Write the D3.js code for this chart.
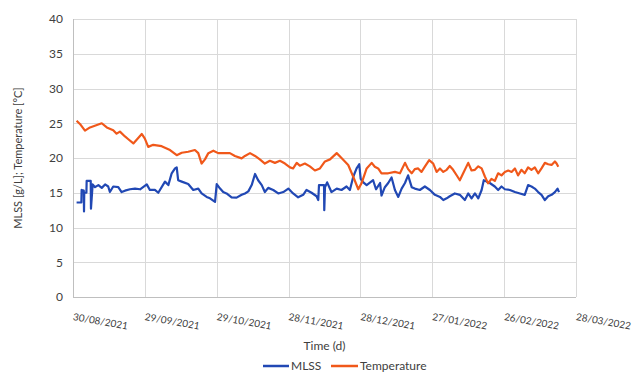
<!DOCTYPE html>
<html>
<head>
<meta charset="utf-8">
<script src="https://cdn.jsdelivr.net/npm/d3@7/dist/d3.min.js"></script>
<style>
  html, body { margin: 0; padding: 0; background: #fff; }
  svg { display: block; }
  text { font-family: Lato, "Open Sans", sans-serif; fill: #404040; }
</style>
</head>
<body>
<svg id="chart" width="633" height="372"></svg>
<script>
// ---- data (day offsets from 30/08/2021) ----
const startDate = "2021-08-30";
const xTickLabels = ["30/08/2021","29/09/2021","29/10/2021","28/11/2021","28/12/2021","27/01/2022","26/02/2022","28/03/2022"];
const yTicks = [0,5,10,15,20,25,30,35,40];
const seriesNames = ["MLSS", "Temperature"];

const tempDays = [1.5,2.9,5.0,7.1,12.0,14.1,16.8,18.2,19.6,21.7,23.1,25.2,28.7,30.0,31.4,33.5,37.0,40.5,43.3,45.4,48.1,50.9,52.3,53.7,55.1,56.5,58.6,60.6,63.4,65.5,67.6,70.4,71.8,73.9,76.0,78.0,80.1,82.2,84.3,86.4,88.5,90.6,91.9,93.4,94.7,96.8,98.9,101.0,103.1,105.2,107.3,110.1,112.1,114.9,117.0,119.1,120.5,122.6,124.7,126.0,127.4,128.8,131.6,134.4,136.5,138.6,139.9,141.4,142.7,144.1,145.5,146.9,148.7,150.4,151.8,153.2,154.6,156.0,157.3,158.7,160.1,161.5,162.9,165.0,166.4,167.8,169.2,170.6,172.0,173.3,174.7,176.1,177.5,178.9,180.3,181.7,183.1,184.5,185.8,187.2,188.6,190.0,191.4,192.8,194.2,195.6,197.0,198.4,199.8,201.2,201.9,202.6];
const tempValues = [25.37,24.9,23.93,24.4,25.0,24.4,24.0,23.5,23.8,23.1,22.7,22.1,23.46,22.8,21.6,21.9,21.7,21.15,20.4,20.76,20.9,21.15,20.7,19.2,19.8,20.7,21.05,20.7,20.7,20.7,20.3,19.95,20.3,20.7,20.3,19.8,19.2,19.6,19.3,19.6,19.2,18.65,18.5,19.3,18.9,19.2,18.8,18.2,18.5,19.5,19.8,20.7,20.0,19.0,17.3,15.5,16.4,18.5,19.3,18.75,18.5,17.8,17.8,18.0,17.8,19.3,18.4,17.8,18.4,18.5,18.0,18.75,19.7,19.2,18.0,18.5,18.0,18.3,18.85,18.3,17.55,16.8,17.8,19.3,18.2,18.3,18.8,18.5,17.3,16.35,17.0,16.7,17.8,17.5,18.0,18.2,18.0,18.5,17.5,18.3,17.8,18.65,18.3,18.65,17.8,18.5,19.3,19.1,19.0,19.5,19.2,18.75];

const mlssDays = [1.5,3.5,3.6,4.5,4.6,4.7,5.6,5.7,7.4,7.5,8.2,9.2,10.6,12.0,13.4,14.7,15.4,16.8,18.9,20.3,21.7,23.8,25.9,28.0,30.8,32.1,34.2,35.6,38.4,39.8,41.2,42.6,43.3,43.9,45.4,48.1,50.2,52.3,53.7,55.8,57.2,59.3,60.0,61.4,62.7,64.1,66.2,68.3,70.4,71.8,73.2,74.6,76.0,77.3,78.8,80.1,81.5,83.6,85.7,87.8,89.9,91.9,94.0,96.1,97.5,99.6,101.7,102.4,102.7,104.8,104.9,105.2,106.1,107.9,110.1,112.1,114.2,115.6,117.0,118.4,119.5,120.1,121.2,122.6,125.3,126.5,128.2,128.8,130.2,131.6,133.0,134.4,135.8,137.2,138.6,139.9,141.4,142.7,144.8,146.9,149.0,151.1,153.2,154.6,156.0,157.3,159.4,161.5,163.6,165.0,166.4,167.8,169.2,170.6,171.5,172.7,174.0,176.1,177.5,178.9,180.3,182.4,184.5,186.6,188.6,190.0,191.4,192.8,194.2,195.6,197.0,198.4,199.8,201.2,202.3,202.9];
const mlssValues = [13.6,13.6,15.4,15.3,12.3,15.0,15.0,16.7,16.7,12.7,16.2,15.8,16.1,15.7,16.2,15.9,15.1,15.9,15.8,15.1,15.3,15.5,15.6,15.5,16.2,15.4,15.4,15.0,16.6,16.1,17.8,18.5,18.65,16.8,16.6,16.25,15.4,15.6,14.9,14.4,14.2,13.7,16.25,15.6,15.1,14.9,14.34,14.3,14.7,14.9,15.2,16.1,17.7,16.8,16.1,15.1,15.7,15.4,14.9,15.1,15.6,14.9,14.34,14.7,15.4,15.0,14.5,13.95,16.1,16.1,12.5,15.8,16.5,15.1,15.6,15.4,15.9,15.4,17.3,18.5,19.1,17.0,16.5,16.1,16.8,15.5,16.4,14.6,15.8,16.4,17.2,15.4,14.4,15.6,16.4,17.5,15.8,15.6,15.4,15.9,15.4,14.7,14.4,13.95,14.2,14.5,14.9,14.7,13.95,14.9,14.2,14.9,14.2,15.4,16.8,16.6,16.4,15.9,15.4,15.9,15.5,15.4,15.1,14.9,14.7,16.1,15.9,15.6,15.1,14.7,13.95,14.5,14.7,15.1,15.6,15.1];

// ---- layout ----
const m = { left: 73, right: 576, top: 19, bottom: 297 };
const colors = { MLSS: "#2148b4", Temperature: "#f0581a" };

const parse = d3.timeParse("%Y-%m-%d");
const parseTick = d3.timeParse("%d/%m/%Y");
const t0 = parse(startDate);
const dayToDate = d => new Date(t0.getTime() + d * 864e5);
const tickDates = xTickLabels.map(parseTick);

const x = d3.scaleTime().domain([tickDates[0], tickDates[tickDates.length - 1]]).range([m.left, m.right]);
const y = d3.scaleLinear().domain([0, 40]).range([m.bottom, m.top]);

const svg = d3.select("#chart");

// gridlines
const grid = svg.append("g");
grid.selectAll("line.h").data(yTicks).join("line")
  .attr("x1", m.left).attr("x2", m.right)
  .attr("y1", d => Math.round(y(d)) + 0.5).attr("y2", d => Math.round(y(d)) + 0.5)
  .attr("stroke", d => d === 0 ? "#bfbfbf" : "#d9d9d9").attr("stroke-width", 1);
grid.selectAll("line.v").data(tickDates).join("line")
  .attr("x1", d => Math.round(x(d)) + 0.5).attr("x2", d => Math.round(x(d)) + 0.5)
  .attr("y1", m.top).attr("y2", m.bottom)
  .attr("stroke", (d, i) => i === 0 ? "#bfbfbf" : "#d9d9d9").attr("stroke-width", 1);

// y axis labels
const yAxis = d3.axisLeft(y).tickValues(yTicks).tickSize(0).tickPadding(10);
const ya = svg.append("g").attr("transform", `translate(${m.left},0)`).call(yAxis);
ya.select(".domain").remove();
ya.selectAll("text").style("font-size", "12px").style("font-family", "Lato, sans-serif").attr("fill", "#404040");

// x axis labels (rotated)
const xAxis = d3.axisBottom(x).tickValues(tickDates).tickSize(0).tickFormat((d, i) => xTickLabels[i]);
const xa = svg.append("g").attr("transform", `translate(0,${m.bottom})`).call(xAxis);
xa.select(".domain").remove();
xa.selectAll("text")
  .attr("text-anchor", "start")
  .attr("dy", null)
  .attr("y", null)
  .attr("transform", "translate(-1,23) rotate(10)")
  .style("font-size", "10px")
  .style("font-family", "Lato, sans-serif").attr("fill", "#404040");

// lines
const line = d3.line().x(d => x(d[0])).y(d => y(d[1]));
const tempData = tempDays.map((d, i) => [dayToDate(d), tempValues[i]]);
const mlssData = mlssDays.map((d, i) => [dayToDate(d), mlssValues[i]]);

svg.append("path").datum(mlssData).attr("d", line)
  .attr("fill", "none").attr("stroke", colors.MLSS).attr("stroke-width", 2.2).attr("stroke-linejoin", "round");
svg.append("path").datum(tempData).attr("d", line)
  .attr("fill", "none").attr("stroke", colors.Temperature).attr("stroke-width", 2.2).attr("stroke-linejoin", "round");

// axis titles
svg.append("text").attr("x", (m.left + m.right) / 2).attr("y", 350)
  .attr("text-anchor", "middle").style("font-size", "12px").text("Time (d)");
svg.append("text").attr("transform", `translate(22,${(m.top + m.bottom) / 2}) rotate(-90)`)
  .attr("text-anchor", "middle").style("font-size", "11px").text("MLSS [g/L]; Temperature [°C]");

// legend
const legend = svg.append("g");
const legItems = [
  { name: seriesNames[0], x1: 263, x2: 289, tx: 291 },
  { name: seriesNames[1], x1: 331, x2: 358, tx: 360 }
];
legItems.forEach(it => {
  legend.append("line").attr("x1", it.x1).attr("x2", it.x2).attr("y1", 366).attr("y2", 366)
    .attr("stroke", colors[it.name]).attr("stroke-width", 2.5);
  legend.append("text").attr("x", it.tx).attr("y", 370).style("font-size", "12px").text(it.name);
});
</script>
</body>
</html>
